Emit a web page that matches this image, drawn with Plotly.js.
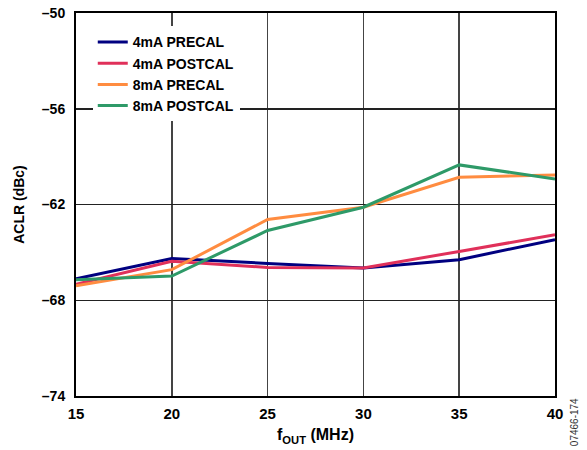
<!DOCTYPE html>
<html><head><meta charset="utf-8">
<script src="https://cdn.plot.ly/plotly-3.0.1.min.js"></script>
<style>body{margin:0;background:#fff}#c{width:587px;height:450px}</style>
</head><body><div id="c"></div>
<script>
const freq = [15, 20, 25, 30, 35, 40];
const pre4 = [-66.65, -65.39, -65.69, -65.98, -65.46, -64.2];
const post4 = [-67.0, -65.56, -65.94, -65.98, -64.94, -63.9];
const pre8 = [-67.1, -66.08, -62.94, -62.17, -60.29, -60.15];
const post8 = [-66.72, -66.48, -63.63, -62.17, -59.52, -60.4];
const names = ["4mA PRECAL", "4mA POSTCAL", "8mA PRECAL", "8mA POSTCAL"];
const colors = ["#000080", "#e0305a", "#ff8c40", "#2e9a68"];
const yTicks = [-74, -68, -62, -56, -50];
const yTickText = ["–74", "–68", "–62", "–56", "–50"];
const xTicks = [15, 20, 25, 30, 35, 40];

const series = [pre4, post4, pre8, post8];
const traces = series.map((s, i) => ({
  x: freq, y: s, name: names[i], type: 'scatter', mode: 'lines',
  line: {color: colors[i], width: 3}
}));
const ff = 'Liberation Sans, Arial, sans-serif';
const layout = {
  width: 587, height: 450,
  margin: {l: 76, r: 32, t: 13, b: 54},
  paper_bgcolor: '#fff', plot_bgcolor: '#fff',
  font: {family: ff, size: 14, color: '#000'},
  showlegend: true,
  legend: {x: 0.035, y: 0.965, xanchor: 'left', yanchor: 'top', bgcolor: '#fff',
    font: {family: ff, size: 14, color: '#000', weight: 'bold'},
    tracegroupgap: 0, itemwidth: 30},
  xaxis: {range: [15, 40], tickvals: xTicks, ticktext: xTicks.map(String),
    showgrid: true, gridcolor: '#444', gridwidth: 1.5,
    showline: true, linecolor: '#000', linewidth: 2, mirror: true,
    zeroline: false, ticks: '', ticklen: 0, ticklabelstandoff: 3,
    tickfont: {family: ff, size: 15, weight: 'bold'},
    title: {text: 'f<sub>OUT</sub> (MHz)', font: {family: ff, size: 16, weight: 'bold'}, standoff: 8}},
  yaxis: {range: [-74, -50], tickvals: yTicks, ticktext: yTickText,
    showgrid: true, gridcolor: '#222', gridwidth: 1.5,
    showline: true, linecolor: '#000', linewidth: 2, mirror: true,
    zeroline: false, ticks: '', ticklen: 0, ticklabelstandoff: 6,
    tickfont: {family: ff, size: 14, weight: 'bold'},
    title: {text: 'ACLR (dBc)', font: {family: ff, size: 14, weight: 'bold'}, standoff: 14}},
  annotations: [{text: '07466-174', xref: 'paper', yref: 'paper', x: 1.025, y: -0.135,
    xanchor: 'left', yanchor: 'bottom', textangle: -90, showarrow: false,
    font: {family: ff, size: 10, color: '#333'}}]
};
Plotly.newPlot('c', traces, layout, {displayModeBar: false, staticPlot: true});
</script></body></html>
